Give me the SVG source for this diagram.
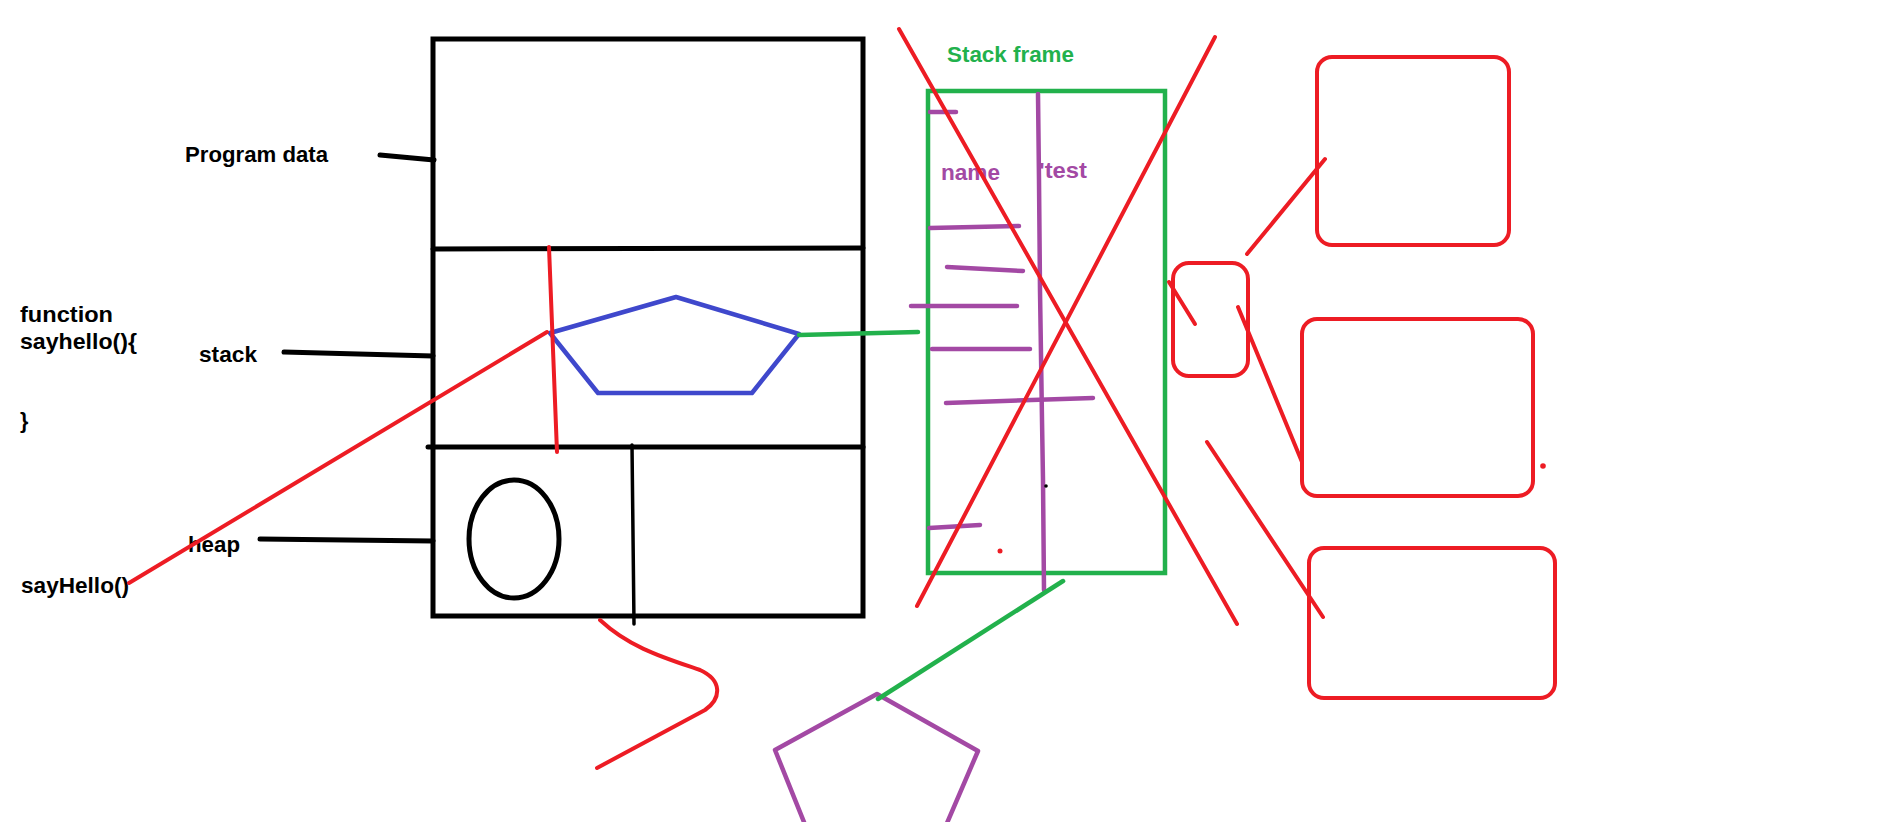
<svg xmlns="http://www.w3.org/2000/svg" width="1901" height="822" viewBox="0 0 1901 822">
<style>
  .blk { stroke:#000; stroke-width:5; fill:none; stroke-linecap:round; }
  .blk3 { stroke:#000; stroke-width:3.5; fill:none; stroke-linecap:round; }
  .red { stroke:#ed1c24; stroke-width:4; fill:none; stroke-linecap:round; stroke-linejoin:round; }
  .grn { stroke:#22b14c; stroke-width:4.5; fill:none; stroke-linecap:round; }
  .pur { stroke:#a349a4; stroke-width:4.5; fill:none; stroke-linecap:round; stroke-linejoin:round; }
  .blu { stroke:#3f48cc; stroke-width:4.5; fill:none; stroke-linejoin:round; }
  .t { font-family:"Liberation Sans", Arial, sans-serif; font-weight:bold; font-size:21.5px; }
  .tb { fill:#000; }
  .tg { fill:#22b14c; }
  .tp { fill:#a349a4; }
</style>
<rect width="1901" height="822" fill="#fff"/>

<g id="code-labels">
  <text class="t tb" x="20" y="322" textLength="93" lengthAdjust="spacingAndGlyphs">function</text>
  <text class="t tb" x="20" y="349" textLength="117" lengthAdjust="spacingAndGlyphs">sayhello(){</text>
  <text class="t tb" x="20" y="428">}</text>
  <text class="t tb" x="21" y="593" textLength="108" lengthAdjust="spacingAndGlyphs">sayHello()</text>
</g>

<g id="memory">
  <rect x="433" y="39" width="430" height="577" class="blk"/>
  <line x1="433" y1="249" x2="863" y2="248" class="blk"/>
  <line x1="428" y1="447" x2="863" y2="447" class="blk"/>
  <line x1="632" y1="445" x2="634" y2="624" class="blk3"/>
  <ellipse cx="514" cy="539" rx="45" ry="59" class="blk" stroke-width="4.5"/>
</g>

<g id="memory-labels">
  <text class="t tb" x="185" y="162" textLength="143" lengthAdjust="spacingAndGlyphs">Program data</text>
  <text class="t tb" x="199" y="362" textLength="58" lengthAdjust="spacingAndGlyphs">stack</text>
  <text class="t tb" x="188" y="552" textLength="52" lengthAdjust="spacingAndGlyphs">heap</text>
</g>

<g id="blue-pentagon">
  <polygon points="550,333 676,297 799,334 752,393 598,393" class="blu"/>
</g>

<g id="stack-frame">
  <text class="t tg" x="947" y="62" textLength="127" lengthAdjust="spacingAndGlyphs">Stack frame</text>
  <rect x="928" y="91" width="237" height="482" class="grn" stroke-width="5"/>
  <text class="t tp" x="941" y="180" textLength="59" lengthAdjust="spacingAndGlyphs">name</text>
  <text class="t tp" x="1039" y="178" textLength="48" lengthAdjust="spacingAndGlyphs">'test</text>
  <polyline points="1038,94 1039,180 1040,290 1042,420 1043,480 1044,590" class="pur"/>
  <line x1="930" y1="112" x2="956" y2="112" class="pur"/>
  <line x1="930" y1="228" x2="1019" y2="226" class="pur"/>
  <line x1="947" y1="267" x2="1023" y2="271" class="pur"/>
  <line x1="911" y1="306" x2="1017" y2="306" class="pur"/>
  <line x1="932" y1="349" x2="1030" y2="349" class="pur"/>
  <line x1="946" y1="403" x2="1093" y2="398" class="pur"/>
  <line x1="929" y1="528" x2="980" y2="525" class="pur"/>
  <circle cx="1046" cy="486" r="1.8" fill="#000"/>
  <circle cx="1000" cy="551" r="2.5" fill="#ed1c24"/>
</g>

<g id="purple-pentagon">
  <polyline points="810,837 775,750 877,694 978,751 941,837" class="pur" stroke-width="4"/>
</g>

<g id="small-red-box">
  <rect x="1173" y="263" width="75" height="113" rx="16" class="red" stroke-width="4.5"/>
</g>
<g id="red-box-1">
  <rect x="1317" y="57" width="192" height="188" rx="15" class="red" stroke-width="4.5"/>
</g>
<g id="red-box-2">
  <rect x="1302" y="319" width="231" height="177" rx="15" class="red" stroke-width="4.5"/>
</g>
<g id="red-box-3">
  <rect x="1309" y="548" width="246" height="150" rx="15" class="red" stroke-width="4.5"/>
  <circle cx="1543" cy="466" r="2.8" fill="#ed1c24"/>
</g>

<g id="connectors">
  <line x1="380" y1="155" x2="434" y2="160" class="blk"/>
  <line x1="284" y1="352" x2="433" y2="356" class="blk"/>
  <line x1="260" y1="539" x2="433" y2="541" class="blk"/>
  <line x1="129" y1="583" x2="547" y2="332" class="red"/>
  <line x1="549" y1="247" x2="557" y2="452" class="red"/>
  <line x1="799" y1="335" x2="918" y2="332" class="grn"/>
  <path d="M600,620 C630,648 665,658 700,670 C722,680 722,698 705,710 L597,768" class="red" stroke-width="4.5"/>
  <line x1="1063" y1="581" x2="878" y2="699" class="grn"/>
  <line x1="899" y1="29" x2="1237" y2="624" class="red"/>
  <line x1="1215" y1="37" x2="917" y2="606" class="red"/>
  <line x1="1169" y1="282" x2="1195" y2="324" class="red"/>
  <line x1="1247" y1="254" x2="1325" y2="159" class="red"/>
  <line x1="1238" y1="307" x2="1302" y2="462" class="red"/>
  <line x1="1207" y1="442" x2="1323" y2="617" class="red"/>
</g>
</svg>
